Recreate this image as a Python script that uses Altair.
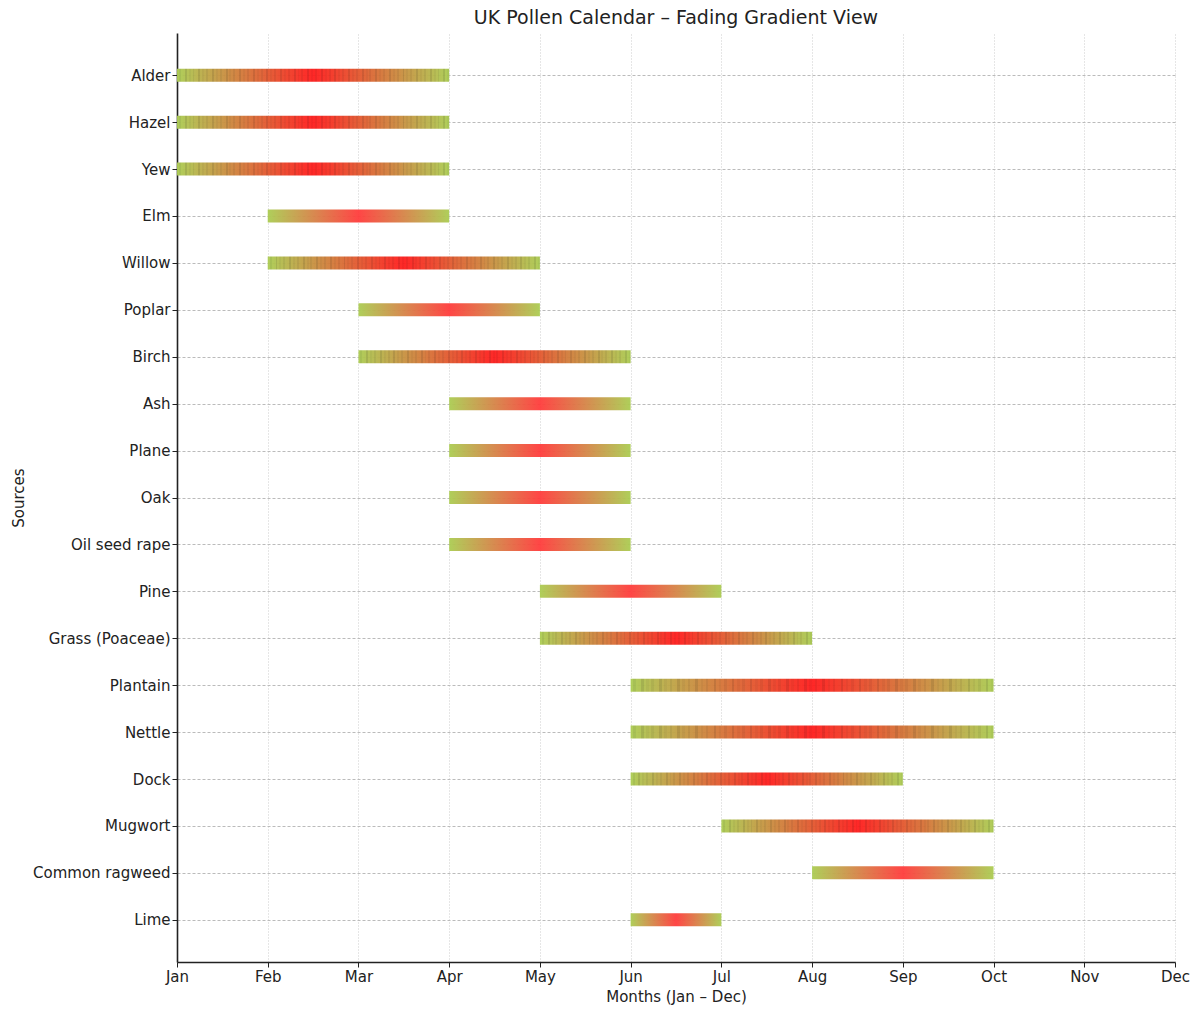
### UK pollen calendar, each source drawn as a green-red-green faded bar

import pandas as pd
import altair as alt

### Season data (month index: Jan = 0 ... Dec = 11)

sources = ["Alder", "Hazel", "Yew", "Elm", "Willow", "Poplar", "Birch", "Ash", "Plane", "Oak",
           "Oil seed rape", "Pine", "Grass (Poaceae)", "Plantain", "Nettle", "Dock", "Mugwort",
           "Common ragweed", "Lime"]
season_start = [0, 0, 0, 1, 1, 2, 2, 3, 3, 3, 3, 4, 4, 5, 5, 5, 6, 7, 5]
season_end = [3, 3, 3, 3, 4, 4, 5, 5, 5, 5, 5, 6, 7, 9, 9, 8, 9, 9, 6]
# which bars show the dense stripy rendering in the original
striped = [True, True, True, False, True, False, True, False, False, False,
           False, False, True, True, True, True, True, False, False]
months = ["Jan", "Feb", "Mar", "Apr", "May", "Jun", "Jul", "Aug", "Sep", "Oct", "Nov", "Dec"]

pollen = pd.DataFrame({"source": sources, "start": season_start, "end": season_end,
                       "striped": striped})

### Colours for the fade

green = (171, 204, 82)
red = (255, 60, 60)
red_deep = (255, 28, 28)

def mix(a, b, w, dim=1.0):
    c = [min(255, round((a[i] * (1 - w) + b[i] * w) * dim)) for i in range(3)]
    return "#%02x%02x%02x" % tuple(c)

smooth_fill = alt.Gradient(
    gradient="linear", x1=0, x2=1, y1=0, y2=0,
    stops=[alt.GradientStop(offset=0, color=mix(green, red, 0)),
           alt.GradientStop(offset=0.5, color=mix(green, red, 1)),
           alt.GradientStop(offset=1, color=mix(green, red, 0))])

# stripy version: thin bands that alternate slightly in shade
stripe_stops = []
n_stripes = 140
shade = [1.0, 0.94, 1.0, 1.0, 0.9, 1.0, 0.96]
for i in range(n_stripes):
    lo, hi = i / n_stripes, (i + 1) / n_stripes
    w = 1 - abs((lo + hi) - 1)
    col = mix(green, red_deep, w, shade[i % len(shade)])
    stripe_stops.append(alt.GradientStop(offset=lo, color=col))
    stripe_stops.append(alt.GradientStop(offset=hi, color=col))
striped_fill = alt.Gradient(gradient="linear", x1=0, x2=1, y1=0, y2=0, stops=stripe_stops)

### Chart

month_expr = "[" + ",".join("'%s'" % m for m in months) + "][datum.value]"

base = alt.Chart(pollen).encode(
    x=alt.X("start:Q",
            scale=alt.Scale(domain=[0, 11], nice=False, zero=False),
            axis=alt.Axis(values=list(range(12)), labelExpr=month_expr, labelFlush=False,
                          title="Months (Jan – Dec)", gridDash=[1, 2], gridColor="#cccccc",
                          titlePadding=5)),
    x2="end:Q",
    y=alt.Y("source:N", sort=sources,
            scale=alt.Scale(type="point", padding=0.9),
            axis=alt.Axis(title="Sources", gridDash=[3, 2], gridColor="#bbbbbb",
                          titlePadding=6)),
)

smooth_bars = base.transform_filter("!datum.striped").mark_bar(height=13, color=smooth_fill,
                                                               opacity=0.95)
stripy_bars = base.transform_filter("datum.striped").mark_bar(height=13, color=striped_fill,
                                                              opacity=0.95)

chart = (alt.layer(smooth_bars, stripy_bars)
    .properties(width=998, height=929,
                title=alt.Title("UK Pollen Calendar – Fading Gradient View", fontSize=19,
                                font="DejaVu Sans", fontWeight="normal", color="#222222",
                                offset=5),
                autosize=alt.AutoSizeParams(type="none"),
                padding={"left": 169, "top": 25, "right": 17, "bottom": 43})
    .configure_view(stroke=None)
    .configure_axis(domainColor="#222222", domainWidth=1.6, tickColor="#222222", tickSize=5,
                    labelFont="DejaVu Sans", labelFontSize=15, labelColor="#222222",
                    labelPadding=2, titleFont="DejaVu Sans", titleFontSize=15,
                    titleFontWeight="normal", titleColor="#222222", grid=True))

chart.save("out.html", embed_options={"renderer": "svg", "actions": False})
